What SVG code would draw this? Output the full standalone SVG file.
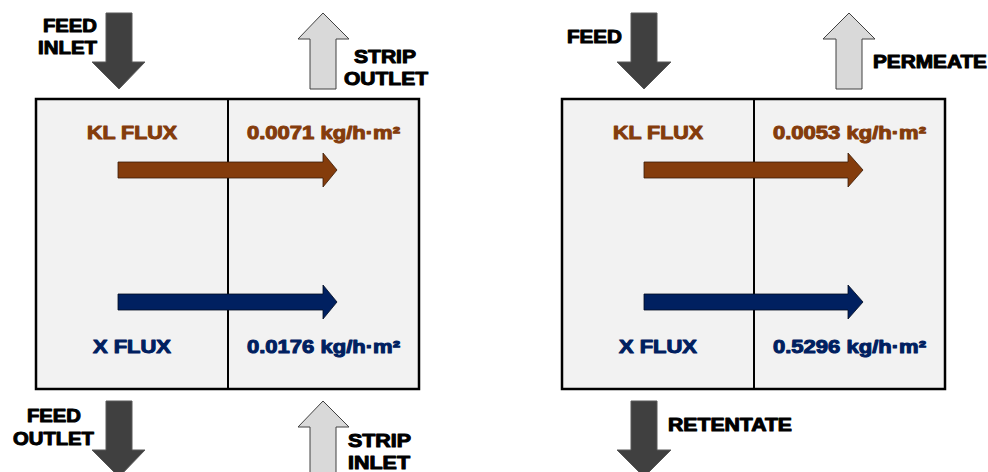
<svg xmlns="http://www.w3.org/2000/svg" width="988" height="472" viewBox="0 0 988 472">
<style>
.box{fill:#F2F2F2;stroke:#000;stroke-width:2.5}
.div{stroke:#000;stroke-width:2}
.dark{fill:#404040;stroke:#595959;stroke-width:1}
.light{fill:#D9D9D9;stroke:#404040;stroke-width:1}
.kl{fill:#843C0C;stroke:#3a1a05;stroke-width:0.8}
.xf{fill:#002060;stroke:#000a20;stroke-width:0.8}
text{font-family:"Liberation Sans","Arial",sans-serif;font-weight:bold;font-size:18px;stroke-width:1;stroke-linejoin:round}
.lbl{fill:#000;stroke:#000}
.tkl{fill:#843C0C;stroke:#843C0C}
.txf{fill:#002060;stroke:#002060}
</style>
<rect width="988" height="472" fill="#fff"/>
<g id="module-left">
<rect class="box" x="36" y="99" width="383" height="290"/>
<line class="div" x1="228" y1="99" x2="228" y2="389"/>
</g>
<g id="module-right">
<rect class="box" x="562" y="99" width="383" height="290"/>
<line class="div" x1="754" y1="99" x2="754" y2="389"/>
</g>
<g id="connectors">
<polygon id="feed-inlet" class="dark" points="106,13 132,13 132,62 145,62 119,89 92,62 106,62"/>
<polygon id="feed-outlet" class="dark" points="106,401 132,401 132,450 145,450 119,477 92,450 106,450"/>
<polygon id="strip-outlet" class="light" points="323,13 349,39 336,39 336,89 310,89 310,39 298,39"/>
<polygon id="strip-inlet" class="light" points="323,401 349,427 336,427 336,480 310,480 310,427 298,427"/>
<polygon id="kl-left" class="kl" points="118,162 323,162 323,153 337,170 323,187 323,178 118,178"/>
<polygon id="x-left" class="xf" points="118,294 323,294 323,285 337,302 323,319 323,310 118,310"/>
<polygon id="feed-r" class="dark" points="631,13 657,13 657,62 671,62 644,89 617,62 631,62"/>
<polygon id="retentate" class="dark" points="631,401 657,401 657,450 671,450 644,477 617,450 631,450"/>
<polygon id="permeate" class="light" points="849,13 875,39 862,39 862,89 836,89 836,39 823,39"/>
<polygon id="kl-right" class="kl" points="644,162 848,162 848,153 863,170 848,187 848,178 644,178"/>
<polygon id="x-right" class="xf" points="644,294 848,294 848,285 863,302 848,319 848,310 644,310"/>
</g>
<g id="labels-left">
<text class="lbl" x="43" y="32" textLength="54" lengthAdjust="spacingAndGlyphs">FEED</text>
<text class="lbl" x="38" y="54" textLength="59" lengthAdjust="spacingAndGlyphs">INLET</text>
<text class="lbl" x="354" y="63" textLength="62" lengthAdjust="spacingAndGlyphs">STRIP</text>
<text class="lbl" x="344" y="85" textLength="84" lengthAdjust="spacingAndGlyphs">OUTLET</text>
<text class="lbl" x="27" y="422" textLength="54" lengthAdjust="spacingAndGlyphs">FEED</text>
<text class="lbl" x="13" y="445" textLength="81" lengthAdjust="spacingAndGlyphs">OUTLET</text>
<text class="lbl" x="348" y="447" textLength="63" lengthAdjust="spacingAndGlyphs">STRIP</text>
<text class="lbl" x="348" y="469" textLength="62" lengthAdjust="spacingAndGlyphs">INLET</text>
<text class="tkl" x="87" y="139" textLength="90" lengthAdjust="spacingAndGlyphs">KL FLUX</text>
<text class="tkl" x="247" y="139" textLength="153" lengthAdjust="spacingAndGlyphs">0.0071 kg/h·m²</text>
<text class="txf" x="93" y="353" textLength="78" lengthAdjust="spacingAndGlyphs">X FLUX</text>
<text class="txf" x="247" y="353" textLength="153" lengthAdjust="spacingAndGlyphs">0.0176 kg/h·m²</text>
</g>
<g id="labels-right">
<text class="lbl" x="567" y="43" textLength="55" lengthAdjust="spacingAndGlyphs">FEED</text>
<text class="lbl" x="873" y="68" textLength="114" lengthAdjust="spacingAndGlyphs">PERMEATE</text>
<text class="lbl" x="668" y="431" textLength="124" lengthAdjust="spacingAndGlyphs">RETENTATE</text>
<text class="tkl" x="613" y="139" textLength="90" lengthAdjust="spacingAndGlyphs">KL FLUX</text>
<text class="tkl" x="773" y="139" textLength="153" lengthAdjust="spacingAndGlyphs">0.0053 kg/h·m²</text>
<text class="txf" x="619" y="353" textLength="78" lengthAdjust="spacingAndGlyphs">X FLUX</text>
<text class="txf" x="773" y="353" textLength="153" lengthAdjust="spacingAndGlyphs">0.5296 kg/h·m²</text>
</g>
</svg>
